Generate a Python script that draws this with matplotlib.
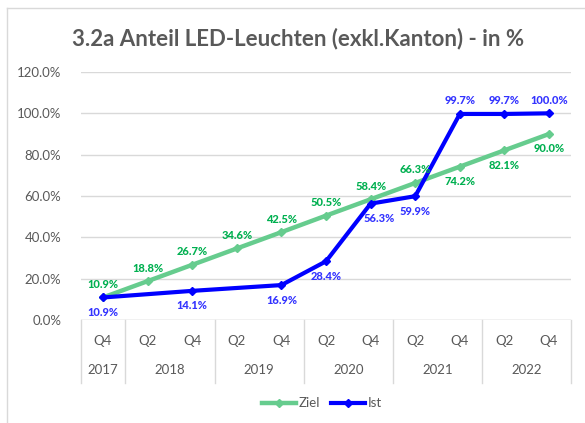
import numpy as np
import matplotlib.pyplot as plt
from matplotlib.lines import Line2D

plt.rcParams['font.family'] = ['Lato', 'DejaVu Sans']

quarters = ['Q4', 'Q2', 'Q4', 'Q2', 'Q4', 'Q2', 'Q4', 'Q2', 'Q4', 'Q2', 'Q4']
years = ['2017', '2018', '2019', '2020', '2021', '2022']
year_spans = [(0, 0), (1, 2), (3, 4), (5, 6), (7, 8), (9, 10)]
ziel = [10.9, 18.8, 26.7, 34.6, 42.5, 50.5, 58.4, 66.3, 74.2, 82.1, 90.0]
ist = [10.9, np.nan, 14.1, np.nan, 16.9, 28.4, 56.3, 59.9, 99.7, 99.7, 100.0]
ziel_below = [False] * 8 + [True] * 3
ist_above = [False] * 8 + [True] * 3

grey = '#595959'
c_ziel = '#66CC8E'
c_ziel_txt = '#00B050'
c_ist = '#0000FF'
c_ist_txt = '#3333FF'

fig = plt.figure(figsize=(5.85, 4.23), dpi=100)
ax = fig.add_axes([0.138, 0.2435, 0.8386, 0.5863])

x = np.arange(len(quarters))
ist = np.array(ist)
ok = ~np.isnan(ist)

ax.plot(x, ziel, color=c_ziel, lw=3.2, marker='D', ms=4.5, zorder=3)
ax.plot(x[ok], ist[ok], color=c_ist, lw=3, marker='D', ms=4.5, zorder=4)

for xi, v, b in zip(x, ziel, ziel_below):
    ax.annotate(f'{v:.1f}%', (xi, v), xytext=(0, -15 if b else 13),
                textcoords='offset pixels', ha='center', va='center',
                color=c_ziel_txt, fontsize=8, fontweight='black', zorder=5)
for xi, v, a in zip(x, ist, ist_above):
    if np.isnan(v):
        continue
    dx = 9 if v == 56.3 else 0
    ax.annotate(f'{v:.1f}%', (xi, v), xytext=(dx, 13 if a else -15),
                textcoords='offset pixels', ha='center', va='center',
                color=c_ist_txt, fontsize=8, fontweight='black', zorder=5)

ax.set_xlim(-0.5, len(quarters) - 0.5)
ax.set_ylim(0, 120)
ax.set_yticks(np.arange(0, 121, 20))
ax.set_yticklabels([f'{t:.1f}%' for t in np.arange(0, 121, 20)])
ax.tick_params(axis='y', length=0, pad=14, labelsize=9.5, labelcolor=grey)
ax.set_xticks([])
ax.grid(axis='y', color='#d9d9d9', lw=1)
ax.set_axisbelow(True)
for s in ax.spines.values():
    s.set_visible(False)
ax.axhline(0, color='#d9d9d9', lw=1, zorder=1)

# multi-level category axis
tr = ax.get_xaxis_transform()
for xi, q in zip(x, quarters):
    ax.text(xi, -0.085, q, transform=tr, ha='center', va='center',
            fontsize=9.5, color=grey)
for yr, (a, b) in zip(years, year_spans):
    ax.text((a + b) / 2, -0.2, yr, transform=tr, ha='center', va='center',
            fontsize=9.5, color=grey)
bounds = [-0.5] + [b + 0.5 for a, b in year_spans]
for bx in bounds:
    ax.plot([bx, bx], [0, -0.255], transform=tr, color='#d9d9d9', lw=1,
            clip_on=False)

fig.text(0.51, 0.91, '3.2a Anteil LED-Leuchten (exkl.Kanton) - in %',
         ha='center', va='center', fontsize=16, fontweight='bold', color=grey)

handles = [Line2D([], [], color=c_ziel, lw=3.2, marker='D', ms=4.5),
           Line2D([], [], color=c_ist, lw=3, marker='D', ms=4.5)]
fig.legend(handles, ['Ziel', 'Ist'], loc='center', bbox_to_anchor=(0.55, 0.047),
           ncol=2, frameon=False, fontsize=9.5, labelcolor=grey,
           handlelength=2.6, handletextpad=0.2, columnspacing=0.8)

# chart area border
fig.add_artist(Line2D([7 / 585, 7 / 585], [0, 1 - 8 / 423], color='#d9d9d9', lw=1))
fig.add_artist(Line2D([7 / 585, 1], [1 - 8 / 423, 1 - 8 / 423], color='#d9d9d9', lw=1))

fig.savefig('out.png', dpi=100)
